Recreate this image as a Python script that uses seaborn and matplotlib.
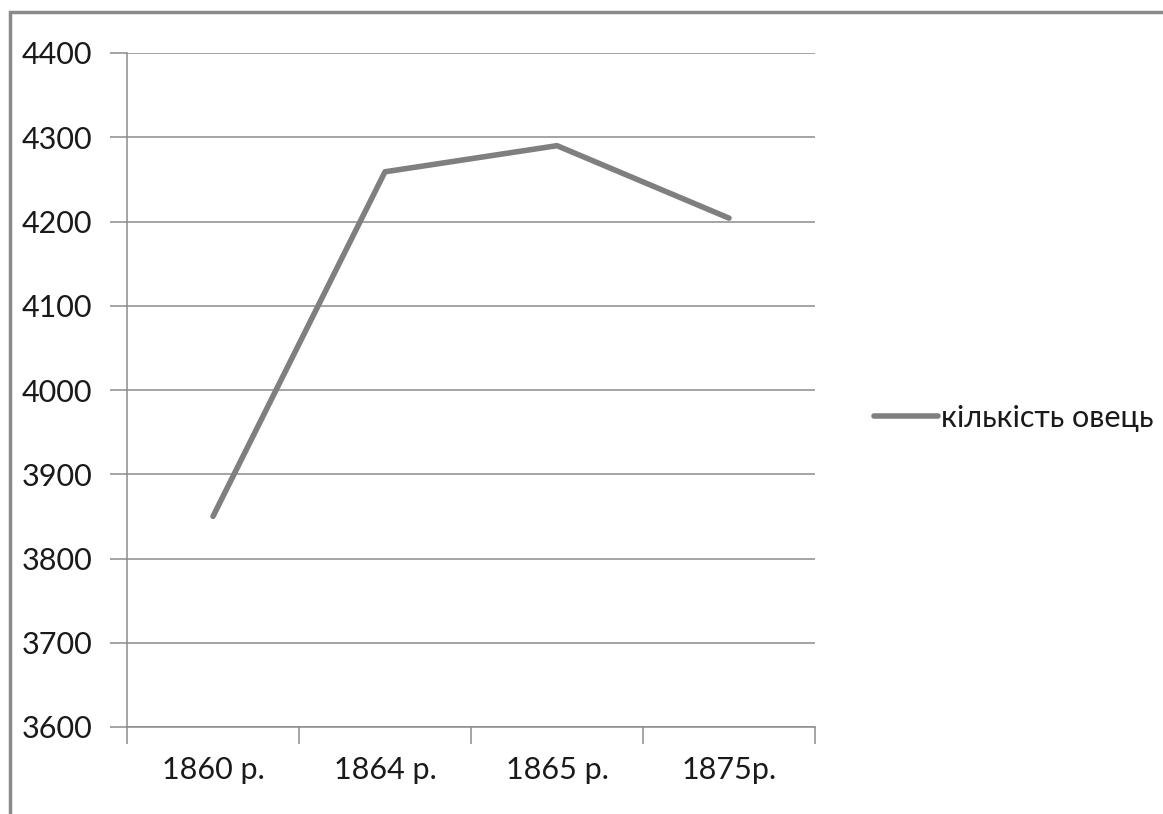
import matplotlib
matplotlib.use("Agg")
import matplotlib.pyplot as plt
import seaborn as sns
import pandas as pd
from matplotlib.patches import Rectangle

# chart data
years = ["1860 р.", "1864 р.", "1865 р.", "1875р."]
sheep = [3850, 4259, 4290, 4204]
series_name = "кількість овець"
y_ticks = [3600, 3700, 3800, 3900, 4000, 4100, 4200, 4300, 4400]

df = pd.DataFrame({"pos": range(len(years)), "value": sheep, "series": series_name})

sns.set_style("white")
plt.rcParams["font.family"] = ["Lato", "DejaVu Sans"]

fig = plt.figure(figsize=(11.63, 8.14), dpi=100)
ax = fig.add_axes([127 / 1163, 1 - 727 / 814, (815 - 127) / 1163, (727 - 53) / 814])

grey = "#7f7f7f"
sns.lineplot(data=df, x="pos", y="value", hue="series", palette=[grey],
             linewidth=4.0, ax=ax, legend=True)

ax.set_xlim(-0.5, len(years) - 0.5)
ax.set_ylim(y_ticks[0], y_ticks[-1])
ax.set_yticks(y_ticks)
ax.yaxis.grid(True, color="#8c8c8c", linewidth=1.1)
ax.set_axisbelow(True)

# category boundaries as major ticks, labels in the middle
ax.set_xticks([i - 0.5 for i in range(len(years) + 1)])
ax.set_xticklabels([])
ax.set_xticks(range(len(years)), minor=True)
ax.set_xticklabels(years, minor=True, fontsize=22, color="#1a1a1a")
ax.tick_params(axis="x", which="major", bottom=True, direction="out", length=12, width=1.1, color="#8c8c8c")
ax.tick_params(axis="x", which="minor", bottom=True, length=0, pad=21)
ax.tick_params(axis="y", left=True, direction="out", length=12, width=1.1, color="#8c8c8c",
               labelsize=22, labelcolor="#1a1a1a", pad=13)
ax.set_xlabel("")
ax.set_ylabel("")

for side in ["top", "right"]:
    ax.spines[side].set_visible(False)
for side in ["left", "bottom"]:
    ax.spines[side].set_color("#8c8c8c")
    ax.spines[side].set_linewidth(1.1)

leg = ax.legend(loc="center left", bbox_to_anchor=(862 / 1163, 1 - 418 / 814),
                bbox_transform=fig.transFigure, frameon=False, fontsize=22,
                handlelength=2.1, handletextpad=0.1, borderaxespad=0)
for t in leg.get_texts():
    t.set_color("#1a1a1a")

# outer chart frame
fig.patches.append(Rectangle((10 / 1163, -0.1), 1.2, 1 - 12 / 814 + 0.1,
                             transform=fig.transFigure, fill=False,
                             edgecolor="#8a8a8a", linewidth=2.5))

fig.savefig("out.png", dpi=100)
